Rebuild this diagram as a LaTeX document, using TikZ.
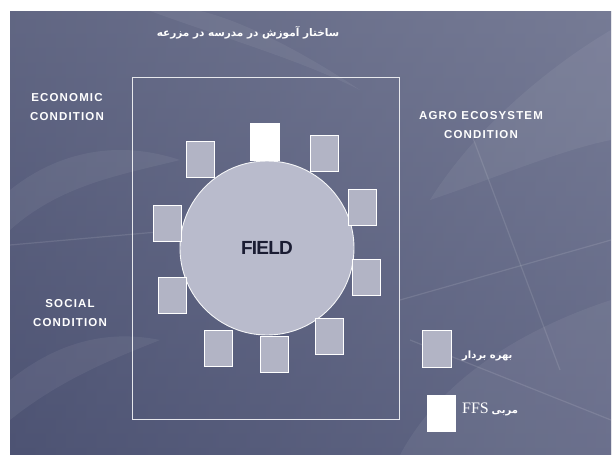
\documentclass[tikz,border=0pt]{standalone}
\usepackage{fontspec}
\setmainfont{Liberation Sans}
\newfontfamily\arabicfont[Script=Arabic]{DejaVu Sans}
\newfontfamily\condfont[LetterSpace=10]{Liberation Sans}
\newfontfamily\fieldfont[LetterSpace=-4]{Liberation Sans}
\newfontfamily\ffsfont{Liberation Serif}
\TeXXeTstate=1
\definecolor{bgtop}{HTML}{6E738E}
\definecolor{bgbot}{HTML}{4F5575}
\definecolor{bgleft}{HTML}{4A5070}
\definecolor{bgright}{HTML}{868BA4}
\definecolor{seatgrey}{HTML}{B2B4C5}
\definecolor{fieldgrey}{HTML}{B9BBCC}
\definecolor{fieldtext}{HTML}{1A1C32}
\tikzset{
  seat/.style={draw=white, line width=0.9pt, fill=seatgrey, minimum width=28pt, minimum height=36pt, inner sep=0pt},
  trainer/.style={draw=white, line width=0.9pt, fill=white, minimum width=28pt, minimum height=36pt, inner sep=0pt},
  fieldcircle/.style={circle, draw=white!85!fieldgrey, line width=0.9pt, fill=fieldgrey, minimum size=174pt, inner sep=0pt, text=fieldtext, font=\fieldfont\bfseries\fontsize{19}{19}\selectfont},
  condlabel/.style={align=center, text=white, font=\condfont\bfseries\fontsize{11.5}{19.5}\selectfont, inner sep=0pt},
  leaf/.style={fill=white, fill opacity=0.06, draw=none},
  vein/.style={draw=white, draw opacity=0.11, line width=1.2pt}
}
\begin{document}
\begin{tikzpicture}[x=1pt,y=-1pt]
\useasboundingbox (0,0) rectangle (616,455);
\fill[white] (0,0) rectangle (616,455);
% background
\shade[top color=bgtop, bottom color=bgbot] (10,11) rectangle (611,455);
\shade[left color=bgleft, right color=bgright, fill opacity=0.35] (10,11) rectangle (611,455);
% faint leaves
\fill[leaf] (150,11) .. controls (230,40) and (300,60) .. (360,90) .. controls (300,50) and (240,20) .. (200,11) -- cycle;
\fill[leaf] (430,200) .. controls (480,120) and (560,60) .. (611,30) -- (611,140) .. controls (560,150) and (490,180) .. (430,200) -- cycle;
\fill[leaf] (10,190) .. controls (60,150) and (120,140) .. (180,160) .. controls (120,175) and (60,185) .. (10,230) -- cycle;
\fill[leaf] (400,455) .. controls (440,380) and (520,330) .. (611,300) -- (611,455) -- cycle;
\fill[leaf] (10,380) .. controls (60,340) and (110,330) .. (160,340) .. controls (110,360) and (60,380) .. (10,420) -- cycle;
\draw[vein] (470,130) -- (560,370);
\draw[vein] (10,245) -- (180,230);
\draw[vein] (400,300) -- (611,240);
\draw[vein] (410,340) -- (611,420);
% title
\node[text=white, font=\arabicfont\bfseries\fontsize{10.5}{12}\selectfont] (title) at (248,33) {\beginR ساختار آموزش در مدرسه در مزرعه\endR};
% side labels
\node[condlabel] (econ) at (67,107) {ECONOMIC\\CONDITION};
\node[condlabel] (agro) at (481,125) {AGRO ECOSYSTEM\\CONDITION};
\node[condlabel] (social) at (70,313) {SOCIAL\\CONDITION};
% frame
\draw[white, draw opacity=0.85, line width=1pt] (132,77) rectangle (399,419);
% field
\node[fieldcircle] (field) at (267,248) {FIELD};
% trainer and seats
\node[trainer, minimum width=29pt, minimum height=37pt] (trainer) at (264.5,141.5) {};
\node[seat] (s1) at (200,159) {};
\node[seat] (s2) at (324.5,153) {};
\node[seat] (s3) at (362,207) {};
\node[seat] (s4) at (167.5,223.5) {};
\node[seat] (s5) at (172.5,295) {};
\node[seat] (s6) at (366.5,277.5) {};
\node[seat] (s7) at (218.5,348.5) {};
\node[seat] (s8) at (274,354.5) {};
\node[seat] (s9) at (329.5,336.5) {};
% legend
\node[seat, minimum width=29pt, minimum height=37pt] (legseat) at (436.5,348.5) {};
\node[trainer] (legtrainer) at (441,413.5) {};
\node[anchor=west, text=white, font=\arabicfont\bfseries\fontsize{10}{12}\selectfont, inner sep=0pt] (legseattext) at (462,356) {\beginR بهره بردار\endR};
\node[anchor=west, text=white, inner sep=0pt] (legtrainertext) at (462,409) {\beginR{\arabicfont\bfseries\fontsize{10}{12}\selectfont مربی} \beginL{\ffsfont\fontsize{16}{18}\selectfont FFS}\endL\endR};
\end{tikzpicture}
\end{document}
